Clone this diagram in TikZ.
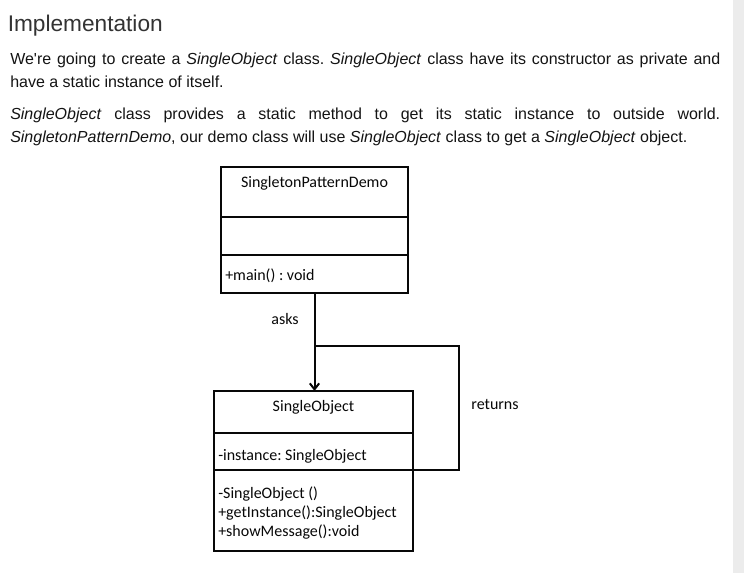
\documentclass[tikz,border=0pt]{standalone}
\usepackage{fontspec}
\setmainfont{Liberation Sans}
\newfontfamily\umlfont{Carlito}
\usetikzlibrary{arrows.meta, positioning, calc}
\definecolor{pgtext}{RGB}{20,20,20}
\definecolor{pghead}{RGB}{51,51,51}
\definecolor{pgbar}{RGB}{236,236,236}
\definecolor{umlink}{RGB}{8,8,8}
\frenchspacing

\begin{document}
\begin{tikzpicture}[x=0.75pt, y=0.75pt,
  part/.style={draw=umlink, line width=1.5pt, outer sep=0pt, inner sep=0pt, anchor=north west},
  umltxt/.style={umlink, font=\umlfont\fontsize{12}{14.25}\selectfont, inner sep=0pt},
  para/.style={pgtext, text width=532.5pt, align=justify, inner sep=0pt,
    font=\fontsize{12}{16.9}\selectfont, anchor=base west},
  link/.style={draw=umlink, line width=1.5pt}]
% page
\fill[white] (0,0) rectangle (744,573);
\fill[pgbar] (733,0) rectangle (744,573);
\useasboundingbox (0,0) rectangle (744,573);

% heading and text
\node[pghead, font=\fontsize{17}{21}\selectfont, anchor=base west, inner sep=0pt]
  (heading) at (7.5,541.5) {Implementation};
\node[para] (intro) at (10,508)
  {We\textquotesingle re going to create a \textit{SingleObject} class. \textit{SingleObject} class have its constructor as private and\linebreak
   have a static instance of itself.};
\node[para] (usage) at (10,453.5)
  {\textit{SingleObject} class provides a static method to get its static instance to outside world.\linebreak
   \textit{SingletonPatternDemo}, our demo class will use \textit{SingleObject} class to get a \textit{SingleObject} object.};

% ---- SingletonPatternDemo ----
\node[part, minimum width=140.25pt, minimum height=37.5pt] (demo name) at (221,406) {};
\node[part, minimum width=140.25pt, minimum height=28.5pt] (demo attr) at (demo name.south west) {};
\node[part, minimum width=140.25pt, minimum height=28.5pt] (demo ops) at (demo attr.south west) {};
\node[umltxt] (demo title) at ([yshift=-12pt]demo name.north) {SingletonPatternDemo};
\node[umltxt, anchor=west] (demo main) at ([xshift=3pt, yshift=-1.5pt]demo ops.west) {+main() : void};

% ---- SingleObject ----
\node[part, minimum width=149.25pt, minimum height=31.5pt] (single name) at (214,182) {};
\node[part, minimum width=149.25pt, minimum height=27.75pt] (single attr) at (single name.south west) {};
\node[part, minimum width=149.25pt, minimum height=60.75pt] (single ops) at (single attr.south west) {};
\node[umltxt] (single title) at ([yshift=-12pt]single name.north) {SingleObject};
\node[umltxt, anchor=west] (single field) at ([xshift=3pt, yshift=-3.5pt]single attr.west)
  {-instance: SingleObject};
\node[umltxt, anchor=west, align=left] (single methods) at ([xshift=3pt, yshift=-2pt]single ops.west)
  {-SingleObject ()\\+getInstance():SingleObject\\+showMessage():void};

% connectors
\coordinate (join) at (demo ops.south |- 0,227);
\coordinate (turn) at (459,227);
\draw[link, -{Straight Barb[length=4.5pt, width=7pt]}]
  (demo ops.south) -- (demo ops.south |- single name.north);
\draw[link] (single attr.south east) -| (turn) -- (join);

\node[umltxt] (asks) at (285,254) {asks};
\node[umltxt] (returns) at (495,168) {returns};
\end{tikzpicture}
\end{document}
